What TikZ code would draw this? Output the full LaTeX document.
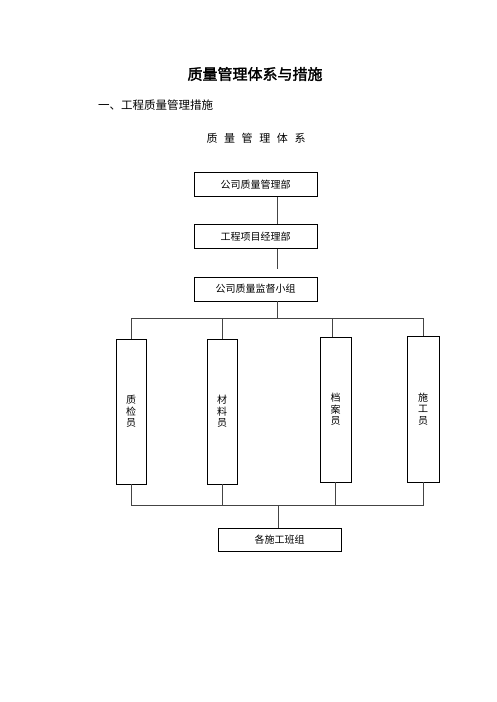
\documentclass[tikz,border=0pt]{standalone}
\usepackage{fontspec}
\newfontfamily\cjk[AutoFakeBold=2]{Noto Sans CJK SC}
\usetikzlibrary{positioning}
\definecolor{lineGray}{HTML}{444444}
\tikzstyle{fDept} = [rectangle, minimum width=123pt, minimum height=24pt, inner sep=0pt, text centered, draw=black, line width=0.9pt, font=\cjk\fontsize{10}{12}\selectfont]
\tikzstyle{fStaff} = [rectangle, minimum width=30pt, minimum height=145pt, inner sep=0pt, align=center, draw=black, line width=0.9pt, font=\cjk\fontsize{10}{11.5}\selectfont]
\tikzstyle{fLink} = [lineGray, line width=0.7pt]
\newcommand{\gapchar}{\hspace{6.6pt}}

\begin{document}
\begin{tikzpicture}[x=1pt, y=-1pt, node distance=52pt]
    \useasboundingbox (0,0) rectangle (496,702);
    % headings
    \node (title) at (255,74) [font=\cjk\bfseries\fontsize{15}{18}\selectfont] {质量管理体系与措施};
    \node (section) at (98,105) [anchor=west, inner sep=0pt, font=\cjk\fontsize{11.5}{14}\selectfont] {一、工程质量管理措施};
    \node (subtitle) at (256,138) [font=\cjk\fontsize{11}{13}\selectfont] {质\gapchar 量\gapchar 管\gapchar 理\gapchar 体\gapchar 系};

    % management chain
    \node (compdept) at (255.5,184.5) [fDept] {公司质量管理部};
    \node (projdept) [fDept, below of=compdept] {工程项目经理部};
    \node (supgroup) [fDept, below of=projdept, yshift=-0.5pt] {公司质量监督小组};

    % staff
    \node (inspector) at (131,411.5) [fStaff] {质\\检\\员};
    \node (material) at (222,411.5) [fStaff] {材\\料\\员};
    \node (archive) at (335.5,409.5) [fStaff, minimum width=31pt] {档\\案\\员};
    \node (builder) at (423,409) [fStaff, minimum width=32pt, minimum height=146pt] {施\\工\\员};

    \node (teams) at (279.5,539.5) [fDept, minimum height=23pt] {各施工班组};

    % spine and buses
    \coordinate (spine) at (277.5,0);
    \coordinate (topbus) at (277.5,318);
    \coordinate (lowbus) at (278.5,505);

    \draw [fLink] (compdept.south -| spine) -- (projdept.north -| spine);
    \draw [fLink] (projdept.south -| spine) -- ([yshift=8pt]supgroup.north -| spine);
    \draw [fLink] (supgroup.south -| topbus) -- (topbus);
    \draw [fLink] (inspector.north) |- (builder.north |- topbus) -- (builder.north);
    \draw [fLink] (material.north) -- (material.north |- topbus);
    \draw [fLink] ([xshift=-3.5pt]archive.north) -- ([xshift=-3.5pt]archive.north |- topbus);
    \draw [fLink] (inspector.south) |- (builder.south |- lowbus) -- (builder.south);
    \draw [fLink] (material.south) -- (material.south |- lowbus);
    \draw [fLink] (archive.south) -- (archive.south |- lowbus);
    \draw [fLink] (lowbus) -- (teams.north -| lowbus);
\end{tikzpicture}
\end{document}
